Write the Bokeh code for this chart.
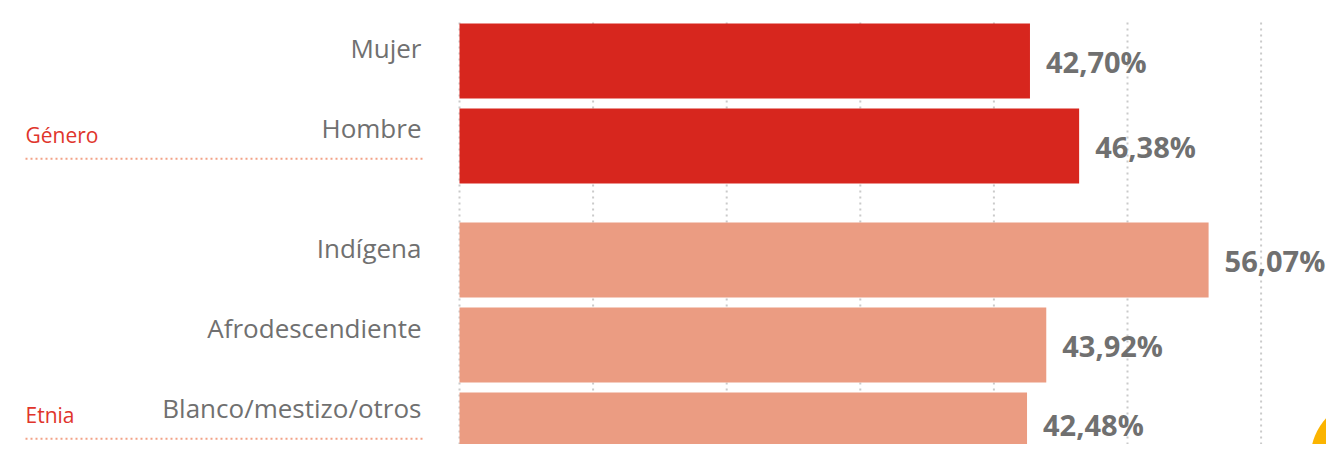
from bokeh.plotting import figure
from bokeh.models import Range1d, ColumnDataSource
from bokeh.core.properties import value
from bokeh.embed import file_html
from bokeh.resources import INLINE

# ---------------- data ----------------
categories = ["Mujer", "Hombre", "Indígena", "Afrodescendiente", "Blanco/mestizo/otros"]
groups = ["Género", "Género", "Etnia", "Etnia", "Etnia"]
values = [42.70, 46.38, 56.07, 43.92, 42.48]
value_labels = ["42,70%", "46,38%", "56,07%", "43,92%", "42,48%"]
group_names = ["Género", "Etnia"]
ticks = [0, 10, 20, 30, 40, 50, 60]

# ---------------- style / layout ----------------
RED = "#d7261e"
SALMON = "#eb9c82"
GREY = "#707070"
GROUP_RED = "#e0342b"
DOT_SALMON = "#f2a287"
GRID_GREY = "#cacaca"
YELLOW = "#fbb400"
FONT = "Open Sans"

W, H = 1326, 444
PXX = 13.36          # px per unit on x
PITCH = 85.0         # px per bar slot
ZERO_PX = 459        # x=0 offset from figure left
TOP_PX = 60.5        # first bar centre from figure top
VAL_FS = 29          # value label font size (px)

def xd(px):          # picture px -> data x
    return (px - ZERO_PX) / PXX

def yd(py):          # picture px -> data y
    return (py - TOP_PX) / PITCH

x_start = -ZERO_PX / PXX
x_end = x_start + W / PXX
y_top = -TOP_PX / PITCH
y_bottom = y_top + H / PITCH

# bar slot positions (with gap between groups)
pos, lab_base = [], []
p_, l_ = 0.0, -13.2 / PITCH
for i, g in enumerate(groups):
    if i > 0:
        changed = g != groups[i - 1]
        p_ += 1 + (29 / PITCH if changed else 0)
        l_ += 80 / PITCH + (40 / PITCH if changed else 0)
    pos.append(p_)
    lab_base.append(l_)

colors = [RED if g == "Género" else SALMON for g in groups]

# keep value labels inside the figure's bottom edge
val_off = []
for y in pos:
    bottom_px = TOP_PX + y * PITCH + 0.62 * VAL_FS
    val_off.append(min(0.0, (H - 2) - bottom_px))

grp_y, line_y = [], []
for gname in group_names:
    last = max(i for i, g in enumerate(groups) if g == gname)
    grp_y.append(lab_base[last] + 7 / PITCH)
    line_y.append(lab_base[last] + 31 / PITCH)

src = ColumnDataSource(dict(cat=categories, val=values, lab=value_labels,
                            pos=pos, lab_base=lab_base, color=colors,
                            zero=[0] * len(values), voff=val_off))

p = figure(width=W, height=H, output_backend="svg", toolbar_location=None,
           x_range=Range1d(x_start, x_end), y_range=Range1d(y_bottom, y_top),
           min_border=0, min_border_left=0, min_border_right=0,
           min_border_top=0, min_border_bottom=0)
p.axis.visible = False
p.grid.visible = False
p.outline_line_color = None
p.background_fill_color = "white"
p.border_fill_color = "white"

# dotted vertical gridlines
for t in ticks:
    p.line(x=[t, t], y=[yd(22), y_bottom], line_color=GRID_GREY, line_width=2,
           line_dash="2 4")

# bars
p.hbar(y="pos", left="zero", right="val", height=75 / PITCH, color="color",
       line_color=None, source=src)

# value labels
p.text(x="val", y="pos", text="lab", source=src, x_offset=16, y_offset="voff",
       text_align="left", text_baseline="middle", text_font=value(FONT),
       text_font_style="bold", text_font_size=f"{VAL_FS}px", text_color=GREY)

# category labels
p.text(x="zero", y="lab_base", text="cat", source=src, x_offset=-38,
       text_align="right", text_baseline="alphabetic", text_font=value(FONT),
       text_font_size="26px", text_color=GREY)

# group labels and dotted separators
p.text(x=[xd(25)] * 2, y=grp_y, text=group_names, text_align="left",
       text_baseline="alphabetic", text_font=value(FONT), text_font_size="21px",
       text_color=GROUP_RED)
for ly in line_y:
    p.line(x=[xd(25), xd(425)], y=[ly, ly], line_color=DOT_SALMON,
           line_width=2, line_dash="2 3")

# decorative yellow circle in corner
p.circle(x=[xd(1370)], y=[yd(458)], radius=60, radius_units="screen",
         fill_color=YELLOW, line_color=None)

open("out.html", "w").write(file_html(p, INLINE))
